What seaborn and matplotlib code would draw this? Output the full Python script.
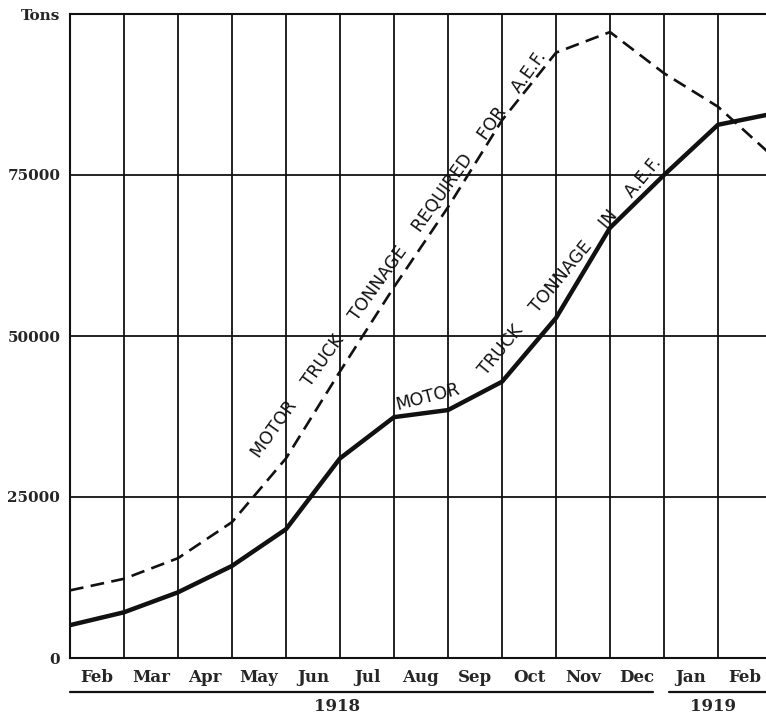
import matplotlib
matplotlib.use("Agg")
import matplotlib.pyplot as plt
import seaborn as sns
import pandas as pd
import numpy as np

# month-end positions (0 = start of Feb 1918 column edge)
positions = [0, 1, 2, 3, 4, 5, 6, 7, 8, 9, 10, 11, 12, 13]
in_aef = [5100, 7100, 10200, 14300, 20000, 31000, 37400, 38500, 42900,
          52800, 66800, 75000, 82800, 84500]
required = [10500, 12300, 15500, 21100, 31000, 44500, 57600, 70000, 83500,
            94000, 97200, 90800, 85600, 78000]
months = ["Feb", "Mar", "Apr", "May", "Jun", "Jul", "Aug", "Sep", "Oct",
          "Nov", "Dec", "Jan", "Feb"]
y_ticks = [0, 25000, 50000, 75000, 100000]
y_labels = ["0", "25000", "50000", "75000", "Tons"]

df = pd.DataFrame({"pos": positions, "in_aef": in_aef, "required": required})

sns.set_style("white")
plt.rcParams["font.family"] = ["DejaVu Sans"]

fig = plt.figure(figsize=(7.66, 7.17), dpi=100)
ax = fig.add_axes([70 / 766, (717 - 658) / 717, 1 - 70 / 766, (658 - 14) / 717])

ink = "#111111"

sns.lineplot(data=df, x="pos", y="required", ax=ax, color=ink, lw=1.9,
             linestyle=(0, (5.2, 2.8)), zorder=3)
sns.lineplot(data=df, x="pos", y="in_aef", ax=ax, color=ink, lw=3.2,
             solid_joinstyle="round", zorder=3)

ax.set_xlim(0, (766 - 70) / 54)
ax.set_ylim(0, 100000)

# grid at month boundaries, labels centred in the columns
ax.set_xticks(range(13))
ax.set_xticklabels([])
ax.set_xticks(np.arange(13) + 0.5, minor=True)
ax.set_xticklabels(months, minor=True, fontfamily="DejaVu Serif",
                   fontweight="bold", fontsize=12)
ax.tick_params(axis="x", which="both", length=0)
ax.tick_params(axis="x", which="minor", pad=8)
ax.grid(True, which="major", color=ink, lw=1.3)

ax.set_yticks(y_ticks)
ax.set_yticklabels(y_labels, fontfamily="DejaVu Serif", fontweight="bold",
                   fontsize=11)
ax.tick_params(axis="y", length=0, pad=7)

ax.set_xlabel("")
ax.set_ylabel("")
for side in ["left", "top", "bottom"]:
    ax.spines[side].set_color(ink)
    ax.spines[side].set_linewidth(1.5)
ax.spines["right"].set_visible(False)

# year underlines and labels
trans = ax.get_xaxis_transform()
ax.plot([0, 10.8], [-0.053, -0.053], color=ink, lw=1.6, transform=trans,
        clip_on=False)
ax.plot([11.1, 12.9], [-0.053, -0.053], color=ink, lw=1.6, transform=trans,
        clip_on=False)
ax.text(4.94, -0.076, "1918", transform=trans, ha="center", va="center",
        fontfamily="DejaVu Serif", fontweight="bold", fontsize=12)
ax.text(11.9, -0.076, "1919", transform=trans, ha="center", va="center",
        fontfamily="DejaVu Serif", fontweight="bold", fontsize=12)

# hand-lettered labels along the curves
lab = dict(fontsize=12.5, color=ink, ha="center", va="center",
           rotation_mode="anchor")
ax.text(6.09, 62700,
        "MOTOR    TRUCK    TONNAGE    REQUIRED    FOR    A.E.F.",
        rotation=54.5, **lab)
ax.text(6.63, 40500, "MOTOR", rotation=14.5, **lab)
ax.text(9.26, 60900, "TRUCK    TONNAGE    IN    A.E.F.", rotation=50.5, **lab)

fig.savefig("out.png", dpi=100)
